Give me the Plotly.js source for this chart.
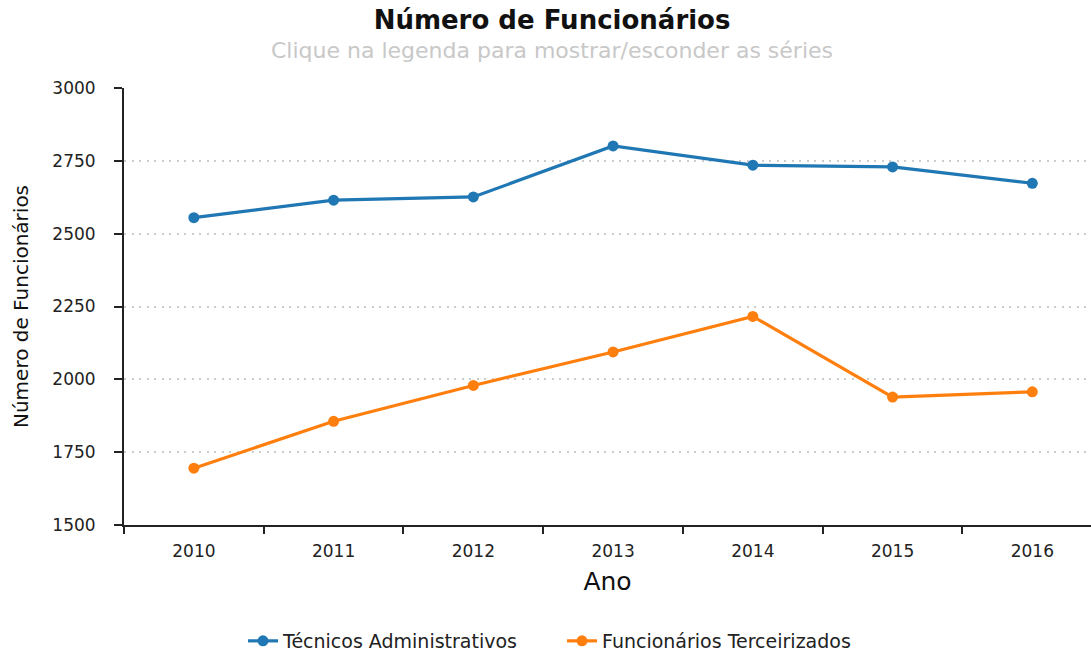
<!DOCTYPE html>
<html>
<head>
<meta charset="utf-8">
<script src="https://cdn.plot.ly/plotly-3.0.1.min.js"></script>
<style>html,body{margin:0;padding:0;overflow:hidden;background:#fff}</style>
</head>
<body>
<div id="chart" style="width:1091px;height:652px"></div>
<script>
const anos = ["2010", "2011", "2012", "2013", "2014", "2015", "2016"];
const tecnicosAdministrativos = [2555, 2615, 2626, 2801, 2735, 2729, 2673];
const funcionariosTerceirizados = [1695, 1856, 1979, 2094, 2216, 1939, 1957];
const nomeSeries = ["Técnicos Administrativos", "Funcionários Terceirizados"];
const yTicks = [1500, 1750, 2000, 2250, 2500, 2750, 3000];

const font = "DejaVu Sans, Verdana, sans-serif";

const traces = [
  {
    x: anos, y: tecnicosAdministrativos, name: nomeSeries[0],
    type: "scatter", mode: "lines+markers",
    line: {color: "#1f77b4", width: 3.2},
    marker: {color: "#1f77b4", size: 11}
  },
  {
    x: anos, y: funcionariosTerceirizados, name: nomeSeries[1],
    type: "scatter", mode: "lines+markers",
    line: {color: "#ff7f0e", width: 3.2},
    marker: {color: "#ff7f0e", size: 11}
  }
];

const layout = {
  width: 1091, height: 652,
  margin: {l: 124, r: 0, t: 88, b: 127, autoexpand: false},
  paper_bgcolor: "#fff", plot_bgcolor: "#fff",
  font: {family: font, color: "#222"},
  title: {
    text: "<b>Número de Funcionários</b>",
    font: {family: font, size: 26, color: "#111"},
    x: 0.506, xref: "container", xanchor: "center",
    y: 1 - 20/652, yref: "container", yanchor: "middle"
  },
  annotations: [{
    text: "Clique na legenda para mostrar/esconder as séries",
    xref: "paper", yref: "paper",
    x: (552 - 124) / 967, y: 1 + (88 - 50) / 437,
    xanchor: "center", yanchor: "middle", showarrow: false,
    font: {family: font, size: 22, color: "#c8c8c8"}
  }],
  xaxis: {
    type: "category",
    range: [-0.5, 6.42],
    tickson: "boundaries",
    ticks: "outside", ticklen: 7, tickwidth: 2, tickcolor: "#222",
    showline: true, linecolor: "#222", linewidth: 2,
    showgrid: false, zeroline: false,
    ticklabelstandoff: 10,
    tickfont: {family: font, size: 17, color: "#222"},
    title: {text: "Ano", font: {family: font, size: 25, color: "#111"}, standoff: 12}
  },
  yaxis: {
    range: [1500, 3000],
    tickvals: yTicks,
    ticks: "outside", ticklen: 8, tickwidth: 2, tickcolor: "#222",
    showline: true, linecolor: "#222", linewidth: 2,
    showgrid: true, gridcolor: "#cccccc", griddash: "2px,5.5px", gridwidth: 2,
    zeroline: false,
    ticklabelstandoff: 15,
    tickfont: {family: font, size: 17, color: "#222"},
    title: {text: "Número de Funcionários", font: {family: font, size: 20, color: "#111"}, standoff: 18}
  },
  showlegend: true,
  legend: {
    orientation: "h",
    xref: "container", yref: "container",
    x: 243 / 1091, xanchor: "left",
    y: 1 - 641 / 652, yanchor: "middle",
    font: {family: font, size: 19, color: "#222"},
    entrywidth: 274, entrywidthmode: "pixels",
    itemwidth: 30
  }
};

Plotly.newPlot("chart", traces, layout, {displayModeBar: false, responsive: false});
</script>
</body>
</html>
